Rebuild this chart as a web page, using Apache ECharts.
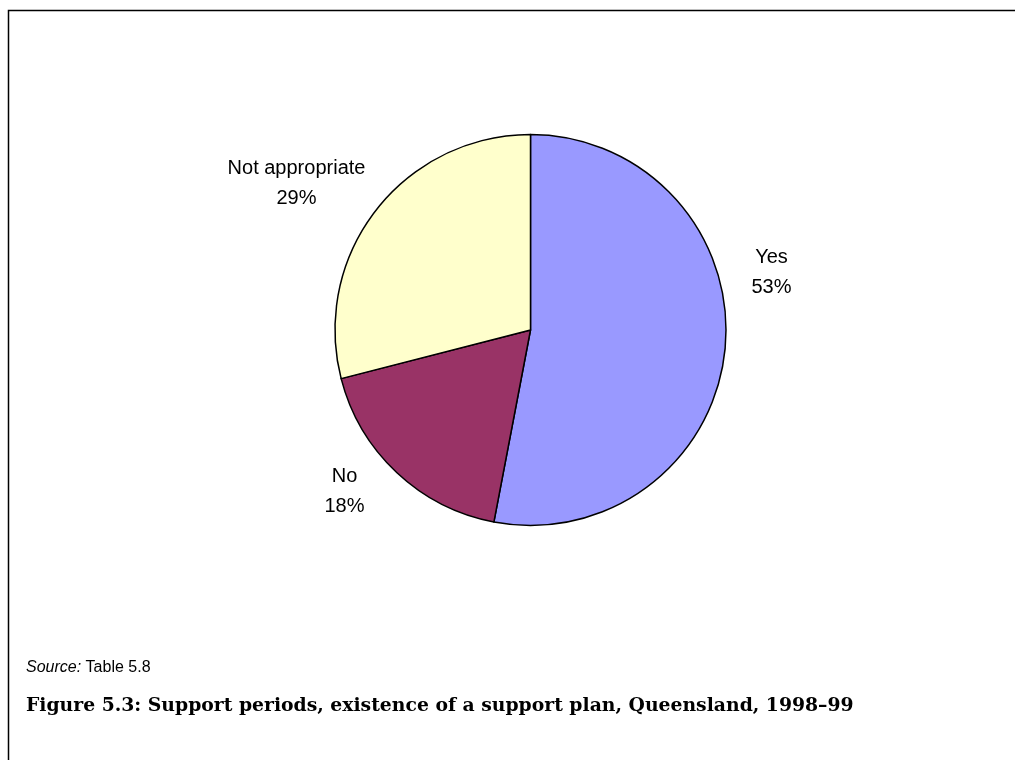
<!DOCTYPE html>
<html>
<head>
<meta charset="utf-8">
<script src="https://cdn.jsdelivr.net/npm/echarts@6/dist/echarts.min.js"></script>
<style>
html,body{margin:0;padding:0;background:#fff;}
#chart{width:1015px;height:760px;}
</style>
</head>
<body>
<div id="chart"></div>
<script>
// Data
const categories = ['Yes', 'No', 'Not appropriate'];
const values = [53, 18, 29];
const sourceLabel = 'Source:';
const sourceText = ' Table 5.8';
const figureTitle = 'Figure 5.3: Support periods, existence of a support plan, Queensland, 1998\u201399';

// Styles / layout
const sliceColors = ['#9999FF', '#993366', '#FFFFCC'];
const CX = 530.5, CY = 330, R = 195.5;
const labelOffsets = [[241, -58], [-186, 161.5], [-234, -147]];

const chart = echarts.init(document.getElementById('chart'), null, {renderer: 'canvas'});
chart.setOption({
  backgroundColor: '#ffffff',
  animation: false,
  graphic: [
    {
      type: 'rect', x: 0, y: 0, silent: true,
      shape: {x: 8.5, y: 10.5, width: 1040, height: 800},
      style: {fill: 'none', stroke: '#000', lineWidth: 1.5}
    },
    {
      type: 'text', x: 26, y: 660, silent: true,
      style: {
        text: '{i|' + sourceLabel + '}{n|' + sourceText + '}',
        rich: {
          i: {fontFamily: 'Liberation Sans', fontStyle: 'italic', fontSize: 16, fill: '#000'},
          n: {fontFamily: 'Liberation Sans', fontSize: 16, fill: '#000'}
        }
      }
    },
    {
      type: 'text', x: 26, y: 697, silent: true,
      style: {
        text: figureTitle,
        fontFamily: 'DejaVu Serif', fontWeight: 'bold', fontSize: 18.8, fill: '#000'
      }
    }
  ],
  series: [{
    type: 'pie',
    center: [CX, CY],
    radius: R,
    startAngle: 90,
    clockwise: true,
    silent: true,
    data: categories.map((c, i) => ({name: c, value: values[i], itemStyle: {color: sliceColors[i]}})),
    itemStyle: {borderColor: '#000', borderWidth: 1.5},
    label: {
      show: true,
      position: 'outside',
      formatter: p => p.name + '\n' + Math.round(p.percent) + '%',
      fontFamily: 'Liberation Sans',
      fontSize: 20,
      lineHeight: 30,
      color: '#000',
      align: 'center'
    },
    labelLine: {show: false},
    labelLayout: function (params) {
      const o = labelOffsets[params.dataIndex];
      return {x: CX + o[0], y: CY + o[1], align: 'center', verticalAlign: 'middle'};
    }
  }]
});
</script>
</body>
</html>
